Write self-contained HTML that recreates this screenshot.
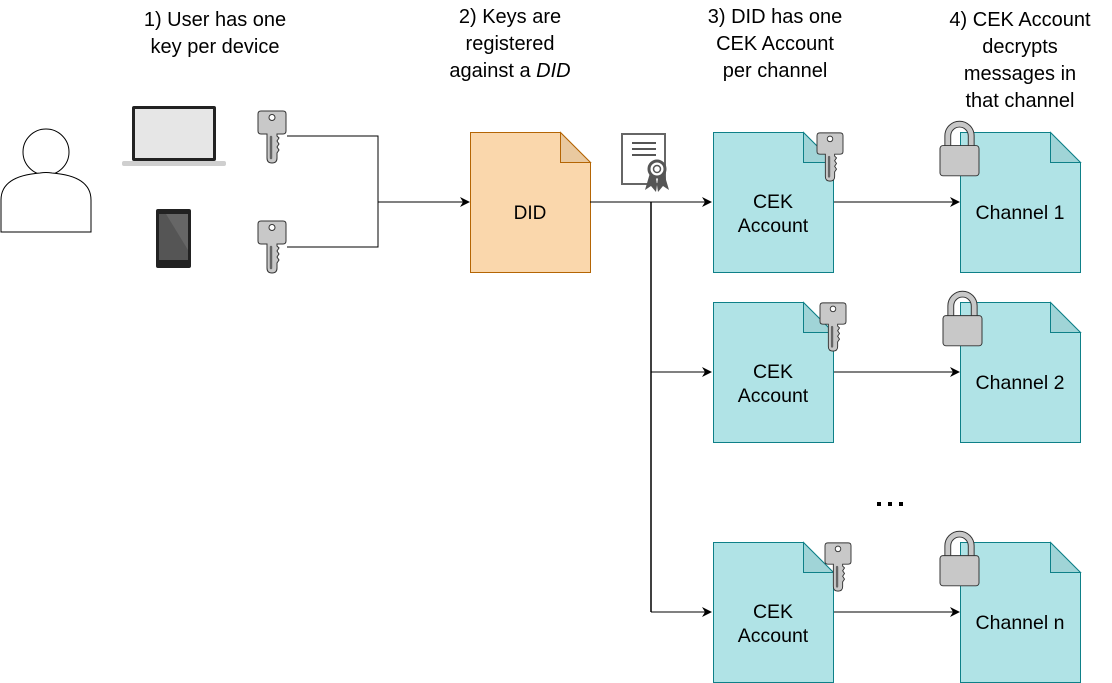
<!DOCTYPE html>
<html><head><meta charset="utf-8"><style>
html,body{margin:0;padding:0;background:#fff;}
svg{display:block;}
text{font-family:"Liberation Sans",Arial,sans-serif;}
</style></head><body>
<svg width="1112" height="683" viewBox="0 0 1112 683" xmlns="http://www.w3.org/2000/svg">
<defs>
<marker id="ar" markerWidth="12" markerHeight="12" refX="9" refY="5" orient="auto" markerUnits="userSpaceOnUse">
<path d="M0,0 L10,5 L0,10 L3,5 Z" fill="#000"/>
</marker>
<symbol id="key" viewBox="0 0 28 52" overflow="visible">
<path d="M3,0 H25 Q28,0 28,3 V20 Q28,23 25,23 H19 V25 L21,27 L19,30 L21,33 L19,36 L21,39 L19,42 V47 Q19,52 14,52 Q9,52 9,47 V23 H3 Q0,23 0,20 V3 Q0,0 3,0 Z" fill="#c8c8c8" stroke="#333" stroke-width="1"/>
<circle cx="14" cy="6.5" r="3" fill="#fff" stroke="#333" stroke-width="1"/>
<path d="M13,26 V47" stroke="#666" stroke-width="2.5" stroke-linecap="round"/>
</symbol>
<symbol id="lock" viewBox="0 0 40 56" overflow="visible">
<path d="M5,26 V15 A15,15 0 0 1 35,15 V26 H29 V15 A9,9 0 0 0 11,15 V26 Z" fill="#c8c8c8" stroke="#333" stroke-width="1"/>
<rect x="0" y="25" width="40" height="31" rx="3" fill="#c8c8c8" stroke="#333" stroke-width="1"/>
</symbol>
</defs>

<g font-size="20" fill="#000" text-anchor="middle">
<text x="215" y="26">1) User has one</text>
<text x="215" y="53">key per device</text>
<text x="510" y="23">2) Keys are</text>
<text x="510" y="50">registered</text>
<text x="510" y="77">against a <tspan font-style="italic">DID</tspan></text>
<text x="775" y="23">3) DID has one</text>
<text x="775" y="50">CEK Account</text>
<text x="775" y="77">per channel</text>
<text x="1020" y="26">4) CEK Account</text>
<text x="1020" y="53">decrypts</text>
<text x="1020" y="80">messages in</text>
<text x="1020" y="107">that channel</text>
</g>

<!-- person -->
<circle cx="46" cy="152" r="23" fill="#fff" stroke="#000" stroke-width="1"/>
<path d="M1,232 V200 Q1,176 40,173 Q46,172 52,173 Q91,176 91,200 V232 Z" fill="#fff" stroke="#000" stroke-width="1"/>

<!-- laptop -->
<rect x="132" y="106" width="84" height="55" rx="2" fill="#222"/>
<rect x="135" y="109" width="78" height="49" fill="#e6e6e6"/>
<rect x="122" y="161" width="104" height="5" rx="2" fill="#cfcfcf"/>
<!-- phone -->
<rect x="156" y="209" width="35" height="59" rx="2" fill="#222"/>
<rect x="159" y="214" width="29" height="46" fill="#555"/>
<path d="M166,214 L188,250 V214 Z" fill="#666"/>

<use href="#key" x="258" y="111" width="28" height="52"/>
<use href="#key" x="258" y="221" width="28" height="52"/>

<!-- lines left -->
<path d="M287,136 H378 V247 H287" fill="none" stroke="#000" stroke-width="1"/>
<path d="M378,202 H469" fill="none" stroke="#000" stroke-width="1" marker-end="url(#ar)"/>

<!-- DID doc -->
<path d="M470.5,132.5 H560.5 L590.5,162.5 V272.5 H470.5 Z" fill="#fad7ac" stroke="#b46504" stroke-width="1"/>
<path d="M560.5,132.5 V162.5 H590.5 Z" fill="#e9c9a0" stroke="#b46504" stroke-width="1"/>
<text x="530" y="219" font-size="19" text-anchor="middle">DID</text>

<!-- certificate -->
<rect x="622" y="134" width="43" height="50" fill="#fff" stroke="#666" stroke-width="2"/>
<path d="M632,143 H656 M632,149 H656 M632,155 H656" stroke="#555" stroke-width="2"/>
<path d="M650,173 L645,190 L651,186 L656,192 L658,178 Z M664,173 L669,190 L663,186 L658,192 L656,178 Z" fill="#555"/>
<circle cx="657" cy="169" r="8" fill="#fff" stroke="#555" stroke-width="3"/>
<circle cx="657" cy="169" r="3.5" fill="#fff" stroke="#555" stroke-width="1.5"/>

<!-- connectors -->
<path d="M590,202 H711" fill="none" stroke="#000" stroke-width="1" marker-end="url(#ar)"/>
<path d="M651,202 V612" fill="none" stroke="#000" stroke-width="1.5"/>
<path d="M651,372 H711" fill="none" stroke="#000" stroke-width="1" marker-end="url(#ar)"/>
<path d="M651,612 H711" fill="none" stroke="#000" stroke-width="1" marker-end="url(#ar)"/>
<path d="M833,202 H959" fill="none" stroke="#000" stroke-width="1" marker-end="url(#ar)"/>
<path d="M833,372 H959" fill="none" stroke="#000" stroke-width="1" marker-end="url(#ar)"/>
<path d="M833,612 H959" fill="none" stroke="#000" stroke-width="1" marker-end="url(#ar)"/>

<!-- docs -->
<g stroke="#0e8088" stroke-width="1">
<path d="M713.5,132.5 H803.5 L833.5,162.5 V272.5 H713.5 Z" fill="#b0e3e6"/>
<path d="M803.5,132.5 V162.5 H833.5 Z" fill="#a0d4d7"/>
<path d="M713.5,302.5 H803.5 L833.5,332.5 V442.5 H713.5 Z" fill="#b0e3e6"/>
<path d="M803.5,302.5 V332.5 H833.5 Z" fill="#a0d4d7"/>
<path d="M713.5,542.5 H803.5 L833.5,572.5 V682.5 H713.5 Z" fill="#b0e3e6"/>
<path d="M803.5,542.5 V572.5 H833.5 Z" fill="#a0d4d7"/>
<path d="M960.5,132.5 H1050.5 L1080.5,162.5 V272.5 H960.5 Z" fill="#b0e3e6"/>
<path d="M1050.5,132.5 V162.5 H1080.5 Z" fill="#a0d4d7"/>
<path d="M960.5,302.5 H1050.5 L1080.5,332.5 V442.5 H960.5 Z" fill="#b0e3e6"/>
<path d="M1050.5,302.5 V332.5 H1080.5 Z" fill="#a0d4d7"/>
<path d="M960.5,542.5 H1050.5 L1080.5,572.5 V682.5 H960.5 Z" fill="#b0e3e6"/>
<path d="M1050.5,542.5 V572.5 H1080.5 Z" fill="#a0d4d7"/>
</g>
<g font-size="19.5" text-anchor="middle">
<text x="773" y="208">CEK</text><text x="773" y="232">Account</text>
<text x="773" y="378">CEK</text><text x="773" y="402">Account</text>
<text x="773" y="618">CEK</text><text x="773" y="642">Account</text>
<text x="1020" y="219">Channel 1</text>
<text x="1020" y="389">Channel 2</text>
<text x="1020" y="629">Channel n</text>
</g>

<use href="#key" x="817" y="132" width="26" height="50"/>
<use href="#key" x="820" y="302" width="26" height="50"/>
<use href="#key" x="825" y="542" width="26" height="50"/>

<use href="#lock" x="940" y="121" width="39" height="55"/>
<use href="#lock" x="943" y="291" width="39" height="55"/>
<use href="#lock" x="940" y="531" width="39" height="55"/>

<g fill="#000">
<rect x="877" y="502" width="4" height="4"/>
<rect x="888" y="502" width="4" height="4"/>
<rect x="899" y="502" width="4" height="4"/>
</g>
</svg>
</body></html>
